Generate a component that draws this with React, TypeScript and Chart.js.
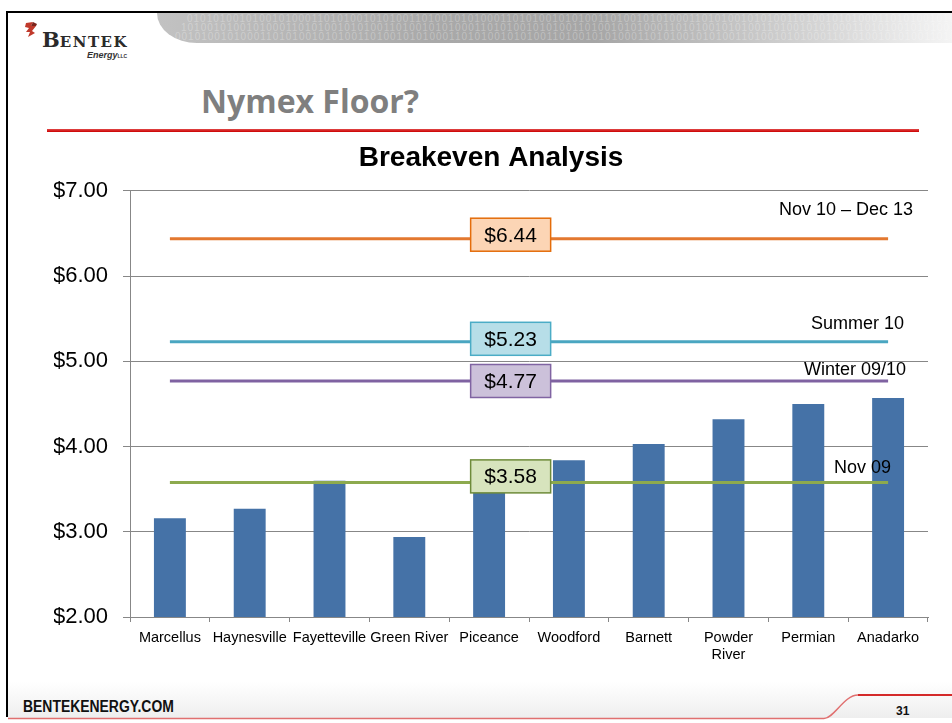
import React, { useEffect, useRef } from 'react';
import { Chart, registerables } from 'chart.js';

Chart.register(...registerables);

// ---------- data ----------
const categories: (string | string[])[] = [
  'Marcellus', 'Haynesville', 'Fayetteville', 'Green River', 'Piceance',
  'Woodford', 'Barnett', ['Powder', 'River'], 'Permian', 'Anadarko',
];
const breakevenPrices = [3.16, 3.27, 3.60, 2.94, 3.65, 3.84, 4.03, 4.32, 4.50, 4.57];
const stripNames = ['Nov 10 \u2013 Dec 13', 'Summer 10', 'Winter 09/10', 'Nov 09'];
const stripPrices = [6.44, 5.23, 4.77, 3.58];
const yMin = 2;
const yMax = 7;
const yStep = 1;

// ---------- styles ----------
const barColor = '#4572A7';
const lineColors = ['#E3782F', '#4AA6C1', '#7F62A1', '#8DAA4E'];
const boxFills = ['#FCD5B5', '#B7DEE8', '#CCC1DA', '#D7E4BD'];
const boxBorders = ['#E46C0A', '#4BACC6', '#8064A2', '#6E8B3A'];
const nameOffsets = [
  { dx: -15, dy: -29 },
  { dx: -24, dy: -18 },
  { dx: -22, dy: -11 },
  { dx: -37, dy: -14 },
];
const boxOffsets = [-4, -3, 0, -6];
const boxIndexPos = 4.27;
const FONT = 'Arial, "Liberation Sans", sans-serif';

const stripLabelPlugin = {
  id: 'stripLabels',
  afterDatasetsDraw(chart: any) {
    const { ctx, chartArea, scales } = chart;
    const x = scales.x;
    const y = scales.y;
    ctx.save();
    stripPrices.forEach((p, i) => {
      const yy = y.getPixelForValue(p);
      ctx.font = `18px ${FONT}`;
      ctx.fillStyle = '#000';
      ctx.textAlign = 'right';
      ctx.textBaseline = 'middle';
      ctx.fillText(stripNames[i], chartArea.right + nameOffsets[i].dx, yy + nameOffsets[i].dy);

      const cx = x.getPixelForValue(boxIndexPos);
      const bw = 80;
      const bh = 33;
      const bx = cx - bw / 2;
      const by = yy + boxOffsets[i] - bh / 2;
      ctx.fillStyle = boxFills[i];
      ctx.fillRect(bx, by, bw, bh);
      ctx.lineWidth = 1.5;
      ctx.strokeStyle = boxBorders[i];
      ctx.strokeRect(bx, by, bw, bh);
      ctx.fillStyle = '#000';
      ctx.font = `21px ${FONT}`;
      ctx.textAlign = 'center';
      ctx.fillText('$' + p.toFixed(2), cx, by + bh / 2 + 1);
    });
    ctx.restore();
  },
};

const binary =
  '0101010010100101000110101001010100110100101010001101010010101001101001010100011010100101010011010010101000110101001010100110100101010001101010';

function Logo() {
  return (
    <div style={{ position: 'absolute', left: 24, top: 20, width: 120, height: 45 }}>
      <svg width={16} height={18} style={{ position: 'absolute', left: 0, top: 1 }}>
        <path d="M2 2 L9 1 L7 5 L12 5 L8 10 L11 12 L4 16 L6 11 L2 11 L5 7 L1 6 Z" fill="#C0392B" />
        <path d="M9 1 L13 3 L12 5 L7 5 Z" fill="#7B241C" />
      </svg>
      <div
        style={{
          position: 'absolute', left: 18, top: 9, fontFamily: '"DejaVu Serif", serif',
          fontWeight: 'bold', color: '#2b2b2b', whiteSpace: 'nowrap', lineHeight: '22px',
        }}
      >
        <span style={{ fontSize: 21 }}>B</span>
        <span style={{ fontSize: 15, letterSpacing: 1.5 }}>ENTEK</span>
      </div>
      <div
        style={{
          position: 'absolute', left: 63, top: 30, fontFamily: FONT, fontStyle: 'italic',
          fontWeight: 'bold', fontSize: 9, color: '#333', whiteSpace: 'nowrap', lineHeight: '10px',
        }}
      >
        Energy<span style={{ fontSize: 5, fontStyle: 'normal' }}>LLC</span>
      </div>
    </div>
  );
}

export default function App() {
  const canvasRef = useRef<HTMLCanvasElement | null>(null);

  useEffect(() => {
    if (!canvasRef.current) return;
    const chart = new Chart(canvasRef.current, {
      type: 'bar',
      data: {
        labels: categories,
        datasets: [
          ...stripPrices.map((p, i) => ({
            type: 'line' as const,
            label: stripNames[i],
            data: categories.map(() => p),
            borderColor: lineColors[i],
            backgroundColor: lineColors[i],
            borderWidth: 3,
            pointRadius: 0,
            fill: false,
            order: 1,
          })),
          {
            type: 'bar' as const,
            label: 'Breakeven',
            data: breakevenPrices,
            backgroundColor: barColor,
            categoryPercentage: 1,
            barPercentage: 0.4,
            order: 2,
          },
        ],
      } as any,
      options: {
        responsive: false,
        animation: false,
        layout: { padding: { left: 24, right: 24, top: 0, bottom: 0 } },
        plugins: {
          legend: { display: false },
          tooltip: { enabled: false },
          title: {
            display: true,
            text: 'Breakeven Analysis',
            color: '#000',
            font: { family: FONT, size: 28, weight: 'bold' },
            padding: { top: 141.2, bottom: 16.2 },
          },
        },
        scales: {
          x: {
            offset: true,
            grid: {
              offset: true,
              drawOnChartArea: false,
              drawTicks: true,
              tickLength: 5,
              color: '#878787',
            },
            border: { color: '#878787' },
            ticks: {
              autoSkip: false,
              maxRotation: 0,
              minRotation: 0,
              padding: 7,
              color: '#000',
              font: { family: FONT, size: 14.5 },
            },
            afterFit: (scale: any) => {
              scale.height = 106;
            },
          },
          y: {
            min: yMin,
            max: yMax,
            grid: { color: '#878787', tickLength: 7, drawTicks: true },
            border: { color: '#878787' },
            ticks: {
              stepSize: yStep,
              padding: 15,
              color: '#000',
              font: { family: FONT, size: 22 },
              callback: (v: any) => '$' + Number(v).toFixed(2),
            },
            afterFit: (scale: any) => {
              scale.width = 76;
            },
          },
        },
      } as any,
      plugins: [stripLabelPlugin],
    });
    return () => chart.destroy();
  }, []);

  return (
    <div
      style={{
        position: 'absolute', left: 0, top: 0, width: 952, height: 723,
        background: '#fff', overflow: 'hidden',
      }}
    >
      {/* header band */}
      <div
        style={{
          position: 'absolute', left: 157, top: 13, width: 795, height: 30,
          background: 'linear-gradient(to right, #c2c2c2 0%, #a9a9a9 35%, #a6a6a6 55%, #d8d8d8 85%, #f4f4f4 100%)',
          borderBottomLeftRadius: '40px 30px', overflow: 'hidden',
        }}
      >
        {[0, 1, 2].map((r) => (
          <div
            key={r}
            style={{
              position: 'absolute', left: 30 - r * 6, top: 1 + r * 9, fontFamily: FONT,
              fontSize: 10, lineHeight: '10px', letterSpacing: 1, whiteSpace: 'nowrap',
              color: 'rgba(255,255,255,0.28)',
            }}
          >
            {binary.slice(r * 3) + binary}
          </div>
        ))}
      </div>
      {/* slide frame */}
      <div style={{ position: 'absolute', left: 7, top: 11, width: 945, height: 2, background: '#000' }} />
      <div style={{ position: 'absolute', left: 6, top: 11, width: 2, height: 706, background: '#000' }} />
      <Logo />
      {/* slide title */}
      <div
        style={{
          position: 'absolute', left: 201, top: 84.6, fontFamily: '"Open Sans", sans-serif',
          fontWeight: 700, fontSize: 32, lineHeight: '32px', color: '#7f7f7f', whiteSpace: 'nowrap',
        }}
      >
        Nymex Floor?
      </div>
      <div
        style={{
          position: 'absolute', left: 47, top: 129, width: 872, height: 3,
          background: 'linear-gradient(#e04848, #cc0000)',
        }}
      />
      {/* footer */}
      <div
        style={{
          position: 'absolute', left: 8, top: 682, width: 944, height: 36,
          background: 'linear-gradient(#ffffff, #eeeeee)',
        }}
      />
      <svg width={952} height={723} style={{ position: 'absolute', left: 0, top: 0 }}>
        <path d="M8 718.5 L824 718.5 C834 718.5 844 695 858 695 L952 695" fill="none" stroke="#e07070" strokeWidth={1.5} />
        <path d="M858 695 L952 695" fill="none" stroke="#d42a2a" strokeWidth={2} />
      </svg>
      <div
        style={{
          position: 'absolute', left: 23, top: 699, fontFamily: FONT, fontWeight: 'bold',
          fontSize: 16, lineHeight: '16px', color: '#111', whiteSpace: 'nowrap',
          transform: 'scaleX(0.87)', transformOrigin: 'left top',
        }}
      >
        BENTEKENERGY.COM
      </div>
      <div
        style={{
          position: 'absolute', left: 896, top: 705, fontFamily: FONT, fontWeight: 'bold',
          fontSize: 12, lineHeight: '12px', color: '#111', whiteSpace: 'nowrap',
        }}
      >
        31
      </div>
      <canvas
        ref={canvasRef}
        width={922}
        height={723}
        style={{ position: 'absolute', left: 30, top: 0, width: 922, height: 723 }}
      />
    </div>
  );
}
